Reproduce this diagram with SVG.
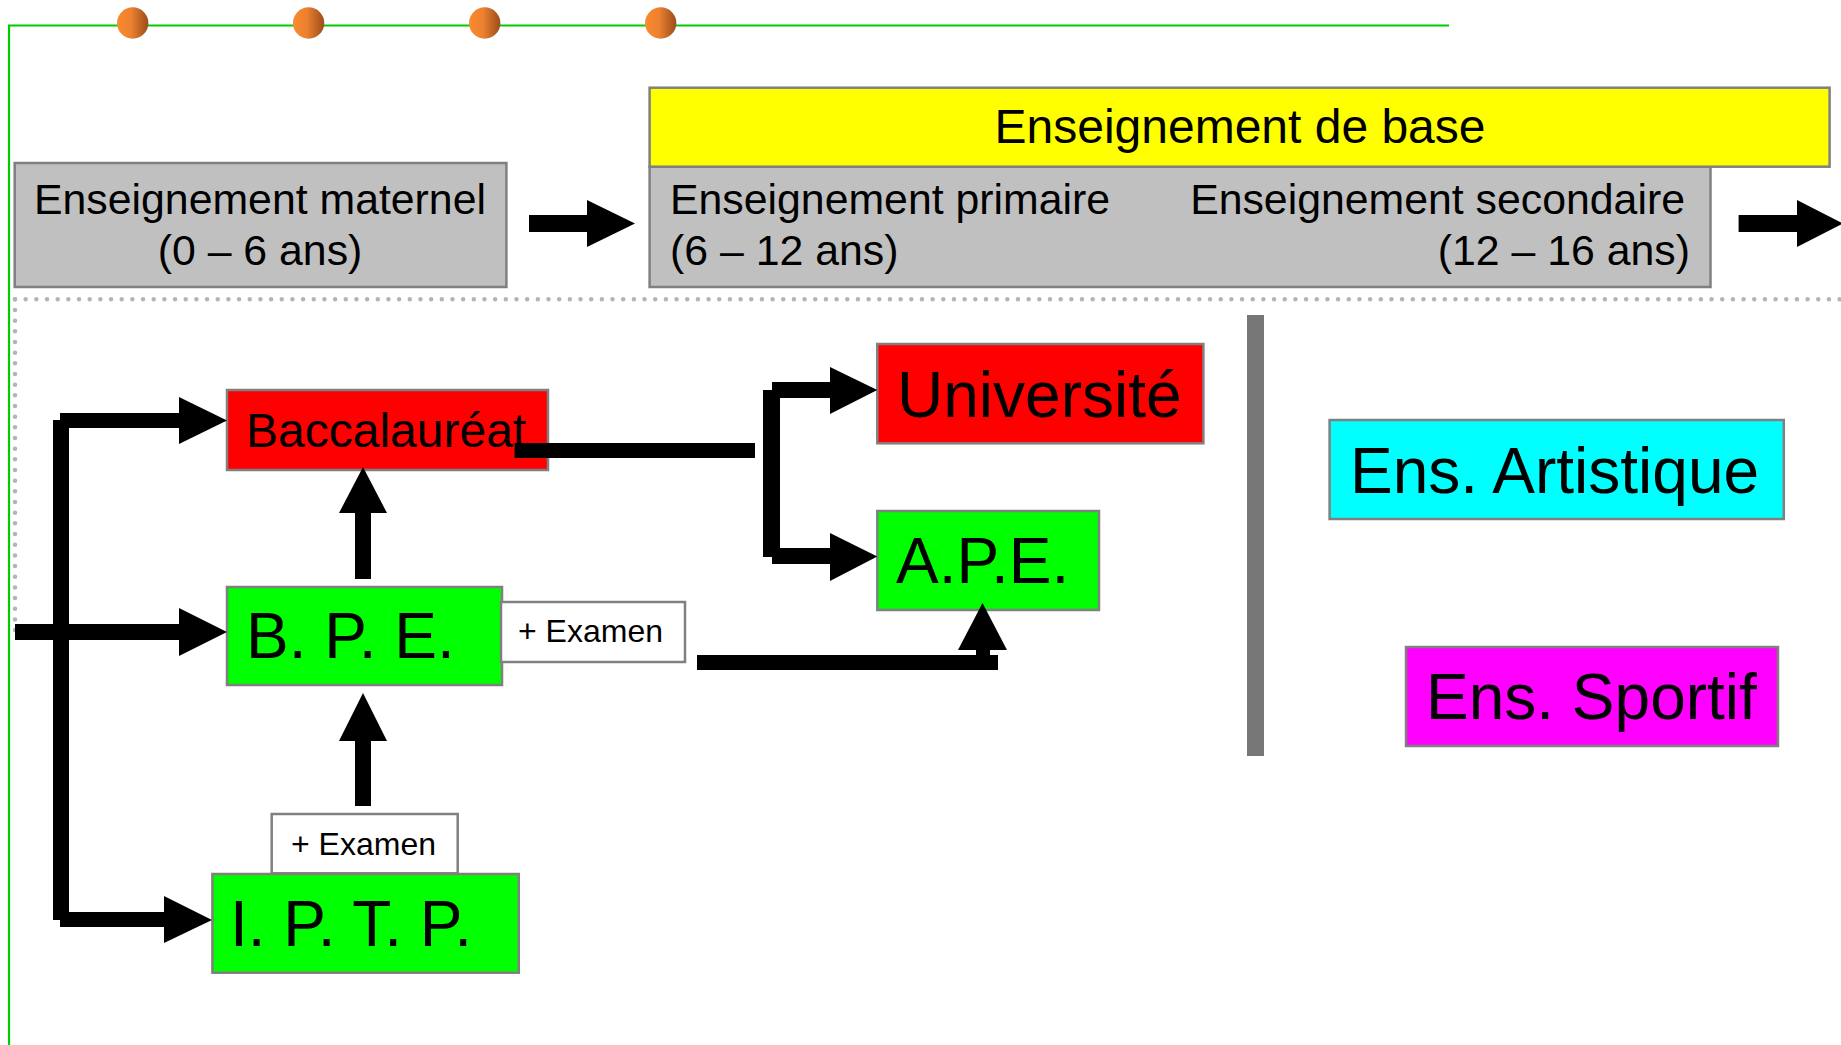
<svg xmlns="http://www.w3.org/2000/svg" width="1841" height="1045" viewBox="0 0 1841 1045">
<style>
.t{font-family:"Liberation Sans",Arial,sans-serif;fill:#000}
.box{stroke:#808080;stroke-width:2.5}
.gray{fill:#c0c0c0}
.con{fill:#000}
.dot{fill:none;stroke:#b4b4b4;stroke-width:4.5;stroke-linecap:round;stroke-dasharray:0 10.67}
</style>
<defs>
<linearGradient id="og" x1="0" y1="0" x2="1" y2="0">
<stop offset="0" stop-color="#f98b32"/>
<stop offset="0.45" stop-color="#ec802e"/>
<stop offset="1" stop-color="#9a4c1c"/>
</linearGradient>
</defs>
<rect width="1841" height="1045" fill="#fff"/>
<g id="frame">
<path d="M9 1045 V25.5 H1449" fill="none" stroke="#00cc00" stroke-width="2.2"/>
<circle cx="132.7" cy="23" r="15.7" fill="url(#og)"/>
<circle cx="308.6" cy="23" r="15.7" fill="url(#og)"/>
<circle cx="484.7" cy="23" r="15.7" fill="url(#og)"/>
<circle cx="660.7" cy="23" r="15.7" fill="url(#og)"/>
<path class="dot" d="M15 299.3 H1841"/>
<path class="dot" d="M15 299.3 V632"/>
<rect x="1247" y="315" width="17" height="441" fill="#777"/>
</g>
<g id="maternel">
<rect class="box gray" x="14.7" y="163" width="491.7" height="124"/>
<text class="t" x="260" y="214" font-size="42.8" text-anchor="middle">Enseignement maternel</text>
<text class="t" x="260" y="265" font-size="42.8" text-anchor="middle">(0 – 6 ans)</text>
</g>
<g id="base">
<rect class="box gray" x="649.6" y="166.7" width="1060.9" height="120.3"/>
<rect class="box" x="649.6" y="87.7" width="1180" height="79" fill="#ffff00"/>
<text class="t" x="1240" y="143" font-size="48" text-anchor="middle">Enseignement de base</text>
<text class="t" x="670" y="214" font-size="42.8">Enseignement primaire</text>
<text class="t" x="670" y="265" font-size="42.8">(6 – 12 ans)</text>
<text class="t" x="1685" y="214" font-size="42.8" text-anchor="end">Enseignement secondaire</text>
<text class="t" x="1690" y="265" font-size="42.8" text-anchor="end">(12 – 16 ans)</text>
</g>
<g id="bac">
<rect class="box" x="227" y="390" width="321" height="80" fill="#ff0000"/>
<text class="t" x="246" y="447" font-size="48">Baccalauréat</text>
</g>
<g id="bpe">
<rect class="box" x="227" y="587" width="275" height="98" fill="#00ff00"/>
<text class="t" x="246" y="658" font-size="64">B. P. E.</text>
</g>
<g id="examen1">
<rect class="box" x="501" y="602" width="184" height="60" fill="#fff"/>
<text class="t" x="518" y="642" font-size="32">+ Examen</text>
</g>
<g id="iptp">
<rect class="box" x="212.4" y="874" width="306.4" height="98.7" fill="#00ff00"/>
<text class="t" x="230" y="946" font-size="64">I. P. T. P.</text>
</g>
<g id="examen2">
<rect class="box" x="271.7" y="814" width="186" height="59.3" fill="#fff"/>
<text class="t" x="291" y="855" font-size="32">+ Examen</text>
</g>
<g id="universite">
<rect class="box" x="877.3" y="344" width="326.1" height="99.3" fill="#ff0000"/>
<text class="t" x="897" y="417" font-size="64">Université</text>
</g>
<g id="ape">
<rect class="box" x="877.3" y="511" width="221.7" height="99" fill="#00ff00"/>
<text class="t" x="896" y="583" font-size="64">A.P.E.</text>
</g>
<g id="artistique">
<rect class="box" x="1329.6" y="420" width="454.2" height="99" fill="#00ffff"/>
<text class="t" x="1350" y="493" font-size="64">Ens. Artistique</text>
</g>
<g id="sportif">
<rect class="box" x="1406" y="647" width="372" height="99" fill="#ff00ff"/>
<text class="t" x="1426" y="719" font-size="64">Ens. Sportif</text>
</g>
<g id="connectors" class="con">
<rect x="529" y="215" width="58" height="17"/>
<polygon points="587,200 635,223.5 587,247"/>
<rect x="1738.6" y="215" width="58.4" height="17"/>
<polygon points="1797,200 1843,223.5 1797,247"/>
<rect x="53" y="420" width="16" height="500"/>
<rect x="60" y="413" width="119" height="15"/>
<polygon points="179,397 227,420.5 179,444"/>
<rect x="15" y="624" width="164" height="16"/>
<polygon points="179,608 227,632 179,656"/>
<rect x="60" y="912" width="104" height="15"/>
<polygon points="164,896 212,920 164,943"/>
<rect x="355" y="740" width="16" height="66"/>
<polygon points="339,741 363,693 387,741"/>
<rect x="355" y="512" width="16" height="67"/>
<polygon points="339,513 363,467 387,513"/>
<rect x="514.6" y="443" width="240.4" height="15"/>
<rect x="763" y="390" width="17" height="167"/>
<rect x="772" y="382" width="58" height="16"/>
<polygon points="830,367 877.3,390 830,414"/>
<rect x="772" y="548" width="58" height="16"/>
<polygon points="830,533 877.3,556.5 830,581"/>
<rect x="697" y="655" width="301" height="15"/>
<rect x="976" y="648" width="14" height="8"/>
<polygon points="958,650 982.5,603 1007,650"/>
</g>
</svg>
